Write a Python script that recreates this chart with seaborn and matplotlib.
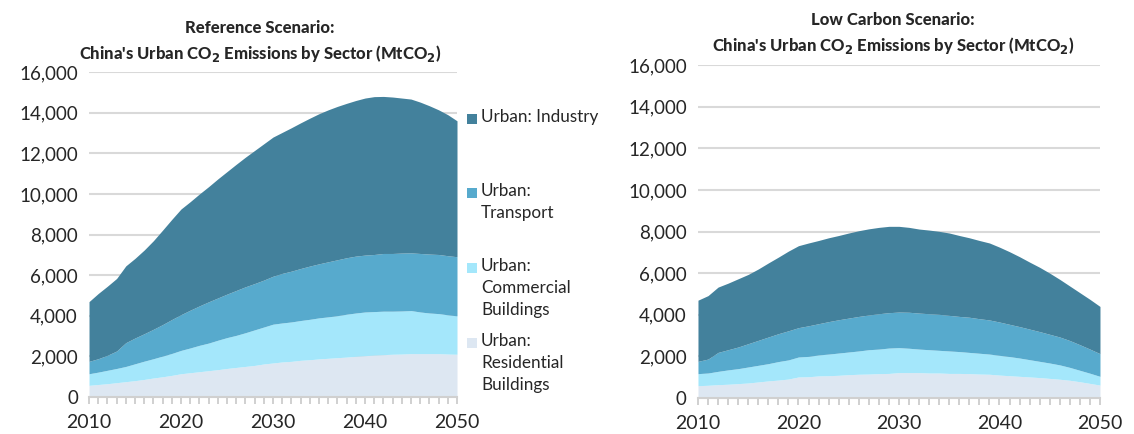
import numpy as np
import matplotlib
matplotlib.use('Agg')
import matplotlib.pyplot as plt
import seaborn as sns
from matplotlib.patches import Rectangle

sns.set_style("white")
plt.rcParams['font.family'] = ['Lato', 'DejaVu Sans']

years = list(range(2010, 2051))
sectors = ['Urban: Industry', 'Urban: Transport', 'Urban: Commercial Buildings', 'Urban: Residential Buildings']
legend_labels = ['Urban: Industry', 'Urban:\nTransport', 'Urban:\nCommercial\nBuildings', 'Urban:\nResidential\nBuildings']
colors = ['#43819C', '#57AACD', '#A4E7FB', '#DDE7F2']

# Reference scenario (MtCO2)
ref_residential = [580, 620, 660, 710, 760, 810, 870, 940, 1000, 1070, 1150, 1200, 1250, 1300, 1350, 1410,
                   1460, 1510, 1560, 1630, 1680, 1730, 1760, 1810, 1840, 1880, 1910, 1940, 1970, 2010, 2040,
                   2070, 2090, 2110, 2120, 2140, 2140, 2140, 2140, 2120, 2110]
ref_commercial = [570, 610, 660, 700, 750, 830, 900, 950, 1020, 1080, 1150, 1220, 1300, 1360, 1450, 1520,
                  1580, 1660, 1750, 1820, 1910, 1920, 1940, 1960, 1990, 2020, 2040, 2070, 2110, 2130, 2150,
                  2140, 2140, 2120, 2120, 2120, 2050, 2000, 1970, 1930, 1890]
ref_transport = [610, 660, 740, 860, 1170, 1270, 1350, 1450, 1550, 1670, 1760, 1860, 1940, 2030, 2080, 2140,
                 2210, 2260, 2280, 2310, 2360, 2440, 2500, 2560, 2620, 2660, 2710, 2750, 2780, 2800, 2800,
                 2810, 2840, 2840, 2850, 2840, 2880, 2900, 2910, 2910, 2910]
ref_industry = [2940, 3210, 3400, 3570, 3780, 3920, 4120, 4360, 4650, 4930, 5200, 5340, 5510, 5670, 5860, 6030,
                6210, 6380, 6550, 6710, 6850, 6940, 7060, 7170, 7280, 7390, 7480, 7550, 7600, 7660, 7730,
                7770, 7730, 7700, 7630, 7570, 7450, 7300, 7120, 6940, 6690]

# Low carbon scenario (MtCO2)
low_residential = [590, 610, 640, 660, 690, 720, 770, 820, 860, 910, 1010, 1020, 1060, 1070, 1090, 1120,
                   1140, 1150, 1170, 1180, 1220, 1220, 1220, 1200, 1200, 1180, 1180, 1170, 1150, 1140, 1100,
                   1070, 1040, 1010, 980, 940, 900, 850, 780, 700, 620]
low_commercial = [580, 590, 640, 690, 720, 770, 800, 830, 890, 920, 960, 980, 1010, 1040, 1070, 1090,
                  1120, 1170, 1180, 1220, 1200, 1170, 1130, 1120, 1090, 1080, 1050, 1020, 1000, 970, 950,
                  920, 880, 830, 780, 740, 690, 620, 550, 490, 420]
low_transport = [590, 670, 910, 970, 1040, 1120, 1200, 1280, 1340, 1400, 1410, 1470, 1500, 1560, 1600, 1630,
                 1660, 1670, 1700, 1700, 1710, 1730, 1730, 1730, 1730, 1710, 1690, 1690, 1660, 1640, 1600,
                 1550, 1510, 1470, 1430, 1380, 1340, 1290, 1230, 1160, 1090]
low_industry = [2940, 3050, 3140, 3200, 3280, 3330, 3430, 3560, 3680, 3830, 3940, 3980, 4000, 4030, 4050, 4090,
                4120, 4140, 4150, 4150, 4120, 4080, 4040, 4020, 3990, 3960, 3890, 3820, 3760, 3700, 3600,
                3490, 3360, 3220, 3090, 2940, 2770, 2620, 2500, 2390, 2270]

x_ticks = [2010, 2020, 2030, 2040, 2050]
y_ticks = [0, 2000, 4000, 6000, 8000, 10000, 12000, 14000, 16000]


def draw_panel(ax, residential, commercial, transport, industry):
    # stacked from the bottom: residential, commercial, transport, industry
    ax.stackplot(years, residential, commercial, transport, industry,
                 colors=colors[::-1], linewidth=0, zorder=2)
    ax.set_xlim(2010, 2050)
    ax.set_ylim(0, 16000)
    ax.set_yticks(y_ticks)
    ax.set_yticklabels([f'{v:,}' for v in y_ticks])
    ax.set_xticks(x_ticks)
    ax.set_xticks(years, minor=True)
    ax.grid(axis='y', color='#D9D9D9', linewidth=1.5, zorder=0)
    ax.set_axisbelow(True)
    for s in ['top', 'right', 'left']:
        ax.spines[s].set_visible(False)
    ax.spines['bottom'].set_color('#D0D0D0')
    ax.spines['bottom'].set_linewidth(1.5)
    ax.spines['bottom'].set_zorder(3)
    ax.tick_params(axis='y', left=False, length=0, labelsize=13.5, pad=8)
    ax.tick_params(axis='x', which='both', bottom=True, direction='out', color='#C8C8C8',
                   length=5, width=1.2, labelsize=14, pad=7)


fig = plt.figure(figsize=(11.34, 4.34), dpi=100)
ax1 = fig.add_axes([0.0785, 0.085, 0.3245, 0.749])
ax2 = fig.add_axes([0.6155, 0.083, 0.3545, 0.767])

draw_panel(ax1, ref_residential, ref_commercial, ref_transport, ref_industry)
draw_panel(ax2, low_residential, low_commercial, low_transport, low_industry)

title_kw = dict(ha='center', va='center', fontsize=12, fontweight='black')
fig.text(260 / 1134, 1 - 28 / 434, 'Reference Scenario:', **title_kw)
fig.text(260 / 1134, 1 - 53 / 434, "China's Urban CO$_\\mathbf{2}$ Emissions by Sector (MtCO$_\\mathbf{2}$)", **title_kw)
fig.text(893 / 1134, 1 - 20 / 434, 'Low Carbon Scenario:', **title_kw)
fig.text(893 / 1134, 1 - 45 / 434, "China's Urban CO$_\\mathbf{2}$ Emissions by Sector (MtCO$_\\mathbf{2}$)", **title_kw)

# legend on the right of the first panel
legend_y = [119, 193, 268, 343]
for label, col, yy in zip(legend_labels, colors, legend_y):
    fig.patches.append(Rectangle((467 / 1134, 1 - (yy + 5) / 434), 10 / 1134, 10 / 434,
                                 transform=fig.transFigure, facecolor=col, edgecolor='none'))
    fig.text(481 / 1134, 1 - (yy - 10) / 434, label, ha='left', va='top', fontsize=12.3,
             linespacing=1.45)

plt.savefig('out.png', dpi=100)
